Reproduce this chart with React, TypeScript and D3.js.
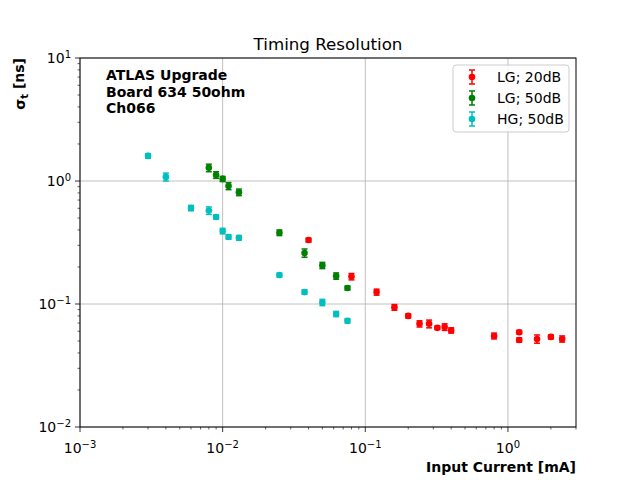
import React, { useEffect, useRef } from "react";
import * as d3 from "d3";

// LG; 20dB
const lg20X = [0.04, 0.08, 0.12, 0.16, 0.2, 0.24, 0.28, 0.32, 0.36, 0.4, 0.8, 1.2, 1.2, 1.6, 2.0, 2.4];
const lg20Y = [0.331, 0.167, 0.125, 0.094, 0.08, 0.069, 0.069, 0.064, 0.065, 0.061, 0.055, 0.059, 0.051, 0.052, 0.054, 0.052];
const lg20Err = [0.012, 0.01, 0.007, 0.005, 0.003, 0.004, 0.005, 0.002, 0.004, 0.003, 0.003, 0.002, 0.002, 0.004, 0.002, 0.003];

// LG; 50dB
const lg50X = [0.008, 0.009, 0.01, 0.011, 0.013, 0.025, 0.0375, 0.05, 0.0625, 0.075];
const lg50Y = [1.28, 1.12, 1.04, 0.91, 0.81, 0.38, 0.26, 0.206, 0.169, 0.135];
const lg50Err = [0.09, 0.07, 0.05, 0.06, 0.05, 0.02, 0.02, 0.012, 0.01, 0.005];

// HG; 50dB
const hg50X = [0.003, 0.004, 0.006, 0.008, 0.009, 0.01, 0.011, 0.013, 0.025, 0.0375, 0.05, 0.0625, 0.075];
const hg50Y = [1.6, 1.08, 0.603, 0.575, 0.51, 0.392, 0.351, 0.345, 0.172, 0.125, 0.103, 0.083, 0.073];
const hg50Err = [0.07, 0.08, 0.03, 0.04, 0.02, 0.02, 0.015, 0.015, 0.006, 0.005, 0.006, 0.004, 0.003];

const seriesLabels = ["LG; 20dB", "LG; 50dB", "HG; 50dB"];
const seriesColors = ["#ff0000", "#008000", "#00bfbf"];

const xTickExps = [-3, -2, -1, 0];
const yTickExps = [-2, -1, 0, 1];

const annotationLines = ["ATLAS Upgrade", "Board 634 50ohm", "Ch066"];

const FONT = "'DejaVu Sans', sans-serif";

export default function App() {
  const svgRef = useRef<SVGSVGElement>(null);

  useEffect(() => {
    if (!svgRef.current) return;
    const root = d3.select(svgRef.current);
    root.selectAll("*").remove();

    const W = 640;
    const H = 480;
    const margin = { top: 58, right: 64, bottom: 53, left: 80 };
    const width = W - margin.left - margin.right;
    const height = H - margin.top - margin.bottom;

    const svg = root
      .attr("width", W)
      .attr("height", H)
      .style("font-family", FONT)
      .append("g")
      .attr("transform", `translate(${margin.left},${margin.top})`);

    const xScale = d3.scaleLog().domain([1e-3, 3]).range([0, width]);
    const yScale = d3.scaleLog().domain([1e-2, 10]).range([height, 0]);

    // grid
    const grid = svg.append("g");
    xTickExps.forEach((e) => {
      const x = xScale(Math.pow(10, e));
      grid.append("line").attr("x1", x).attr("x2", x).attr("y1", 0).attr("y2", height)
        .attr("stroke", "#b0b0b0").attr("stroke-width", 0.8);
    });
    yTickExps.forEach((e) => {
      const y = yScale(Math.pow(10, e));
      grid.append("line").attr("x1", 0).attr("x2", width).attr("y1", y).attr("y2", y)
        .attr("stroke", "#b0b0b0").attr("stroke-width", 0.8);
    });

    // data
    const allSeries = [
      { x: lg20X, y: lg20Y, e: lg20Err },
      { x: lg50X, y: lg50Y, e: lg50Err },
      { x: hg50X, y: hg50Y, e: hg50Err },
    ];
    allSeries.forEach((s, si) => {
      const color = seriesColors[si];
      const g = svg.append("g");
      s.x.forEach((xv, i) => {
        const cx = xScale(xv);
        const yTop = yScale(s.y[i] + s.e[i]);
        const yBot = yScale(s.y[i] - s.e[i]);
        g.append("line").attr("x1", cx).attr("x2", cx).attr("y1", yTop).attr("y2", yBot)
          .attr("stroke", color).attr("stroke-width", 1.5);
        [yTop, yBot].forEach((yy) => {
          g.append("line").attr("x1", cx - 3).attr("x2", cx + 3).attr("y1", yy).attr("y2", yy)
            .attr("stroke", color).attr("stroke-width", 1.5);
        });
        g.append("circle").attr("cx", cx).attr("cy", yScale(s.y[i])).attr("r", 3.3)
          .attr("fill", color);
      });
    });

    // spines
    svg.append("rect").attr("width", width).attr("height", height)
      .attr("fill", "none").attr("stroke", "#000").attr("stroke-width", 1);

    const superLabel = (sel: any, e: number) => {
      sel.append("tspan").text("10");
      sel.append("tspan").attr("dy", "-0.5em").attr("font-size", "10px")
        .text(e < 0 ? "\u2212" + Math.abs(e) : String(e));
    };

    // x ticks
    const xMinor: number[] = [];
    for (let e = -3; e <= 0; e++) {
      for (let m = 2; m <= 9; m++) {
        const v = m * Math.pow(10, e);
        if (v <= 3) xMinor.push(v);
      }
    }
    xMinor.forEach((v) => {
      svg.append("line").attr("x1", xScale(v)).attr("x2", xScale(v))
        .attr("y1", height).attr("y2", height + 2.5).attr("stroke", "#000").attr("stroke-width", 0.6);
    });
    xTickExps.forEach((e) => {
      const x = xScale(Math.pow(10, e));
      svg.append("line").attr("x1", x).attr("x2", x).attr("y1", height).attr("y2", height + 5)
        .attr("stroke", "#000").attr("stroke-width", 0.8);
      const t = svg.append("text").attr("x", x).attr("y", height + 26)
        .attr("text-anchor", "middle").attr("font-size", "14px").attr("fill", "#000");
      superLabel(t, e);
    });

    // y ticks
    const yMinor: number[] = [];
    for (let e = -2; e <= 0; e++) {
      for (let m = 2; m <= 9; m++) yMinor.push(m * Math.pow(10, e));
    }
    yMinor.forEach((v) => {
      svg.append("line").attr("x1", -2.5).attr("x2", 0).attr("y1", yScale(v)).attr("y2", yScale(v))
        .attr("stroke", "#000").attr("stroke-width", 0.6);
    });
    yTickExps.forEach((e) => {
      const y = yScale(Math.pow(10, e));
      svg.append("line").attr("x1", -5).attr("x2", 0).attr("y1", y).attr("y2", y)
        .attr("stroke", "#000").attr("stroke-width", 0.8);
      const t = svg.append("text").attr("x", -9).attr("y", y + 5)
        .attr("text-anchor", "end").attr("font-size", "14px").attr("fill", "#000");
      superLabel(t, e);
    });

    // title
    svg.append("text").attr("x", width / 2).attr("y", -8).attr("text-anchor", "middle")
      .attr("font-size", "16.7px").attr("fill", "#000").text("Timing Resolution");

    // axis labels
    svg.append("text").attr("x", width).attr("y", height + 45).attr("text-anchor", "end")
      .attr("font-size", "14px").attr("font-weight", "bold").attr("fill", "#000")
      .text("Input Current [mA]");

    const yl = svg.append("text").attr("transform", "rotate(-90)")
      .attr("x", 0).attr("y", -55).attr("text-anchor", "end")
      .attr("font-size", "14px").attr("font-weight", "bold").attr("fill", "#000");
    yl.append("tspan").text("\u03c3");
    yl.append("tspan").attr("dy", "0.3em").attr("font-size", "10px").text("t");
    yl.append("tspan").attr("dy", "-0.3em").text(" [ns]");

    // annotation
    annotationLines.forEach((line, i) => {
      svg.append("text").attr("x", 26).attr("y", 22 + i * 16.5)
        .attr("font-size", "14px").attr("font-weight", "bold").attr("fill", "#000").text(line);
    });

    // legend
    const legend = svg.append("g").attr("transform", `translate(${width - 123},7)`);
    legend.append("rect").attr("width", 116).attr("height", 67).attr("rx", 3)
      .attr("fill", "#fff").attr("fill-opacity", 0.8).attr("stroke", "#cccccc");
    seriesLabels.forEach((label, i) => {
      const cy = 12 + i * 21;
      const color = seriesColors[i];
      const row = legend.append("g").attr("transform", `translate(19,${cy})`);
      row.append("line").attr("x1", 0).attr("x2", 0).attr("y1", -7).attr("y2", 7)
        .attr("stroke", color).attr("stroke-width", 1.5);
      [-7, 7].forEach((yy) => {
        row.append("line").attr("x1", -3).attr("x2", 3).attr("y1", yy).attr("y2", yy)
          .attr("stroke", color).attr("stroke-width", 1.5);
      });
      row.append("circle").attr("r", 3.3).attr("fill", color);
      row.append("text").attr("x", 25).attr("y", 5).attr("font-size", "14px").attr("fill", "#000")
        .text(label);
    });
  }, []);

  return (
    <div style={{ margin: -8 }}>
      <svg ref={svgRef}></svg>
    </div>
  );
}
